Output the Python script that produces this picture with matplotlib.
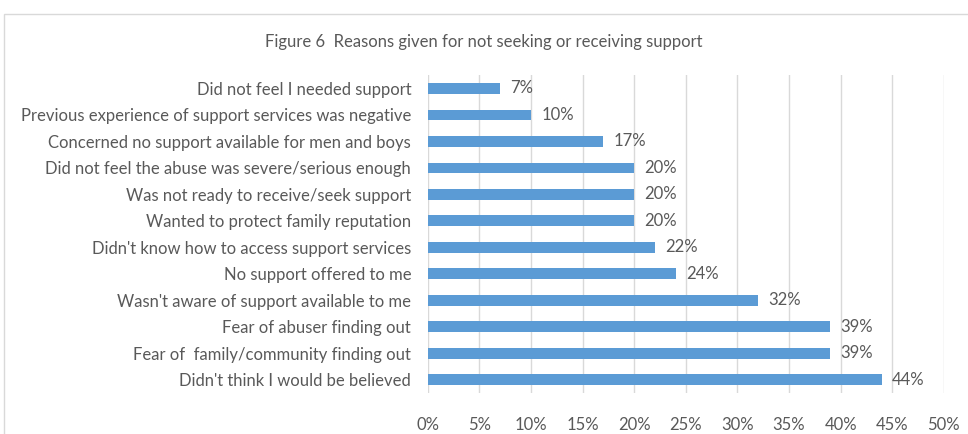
import matplotlib.pyplot as plt
from matplotlib.patches import Rectangle
from matplotlib.ticker import PercentFormatter

# Reasons and share of respondents (%), listed bottom to top
reasons = [
    "Didn't think I would be believed",
    "Fear of  family/community finding out",
    "Fear of abuser finding out",
    "Wasn't aware of support available to me",
    "No support offered to me",
    "Didn't know how to access support services",
    "Wanted to protect family reputation",
    "Was not ready to receive/seek support",
    "Did not feel the abuse was severe/serious enough",
    "Concerned no support available for men and boys",
    "Previous experience of support services was negative",
    "Did not feel I needed support",
]
percent = [44, 39, 39, 32, 24, 22, 20, 20, 20, 17, 10, 7]

text_col = "#595959"
plt.rcParams['font.family'] = ['Lato', 'DejaVu Sans']

fig = plt.figure(figsize=(9.68, 4.34), dpi=100)
fig.patches.append(Rectangle((4 / 968, -0.1), 1.1, 1 - 14 / 434 + 0.1,
                             transform=fig.transFigure, fill=False,
                             edgecolor="#d9d9d9", linewidth=1))
ax = fig.add_axes([0.442, 0.0945, 0.533, 0.7325])

y = range(len(reasons))
ax.barh(y, percent, height=0.4, color="#5b9bd5", zorder=3)
for i, v in enumerate(percent):
    ax.text(v + 1.0, i, f"{v}%", va="center", ha="left",
            fontsize=12, color=text_col)

ax.set_xlim(0, 50)
ax.set_ylim(-0.5, len(reasons) - 0.5)
ax.set_xticks(range(0, 51, 5))
ax.xaxis.set_major_formatter(PercentFormatter(decimals=0))
ax.set_yticks(list(y))
ax.set_yticklabels(reasons)
ax.tick_params(axis="both", length=0, labelsize=12, colors=text_col)
ax.tick_params(axis="x", pad=17)
ax.tick_params(axis="y", pad=12)
ax.grid(axis="x", color="#d9d9d9", linewidth=1, zorder=0)
for s in ax.spines.values():
    s.set_visible(False)

fig.text(0.5, 1 - 42 / 434, "Figure 6  Reasons given for not seeking or receiving support",
         ha="center", va="center", fontsize=12, color=text_col)

fig.savefig("out.png", dpi=100)
